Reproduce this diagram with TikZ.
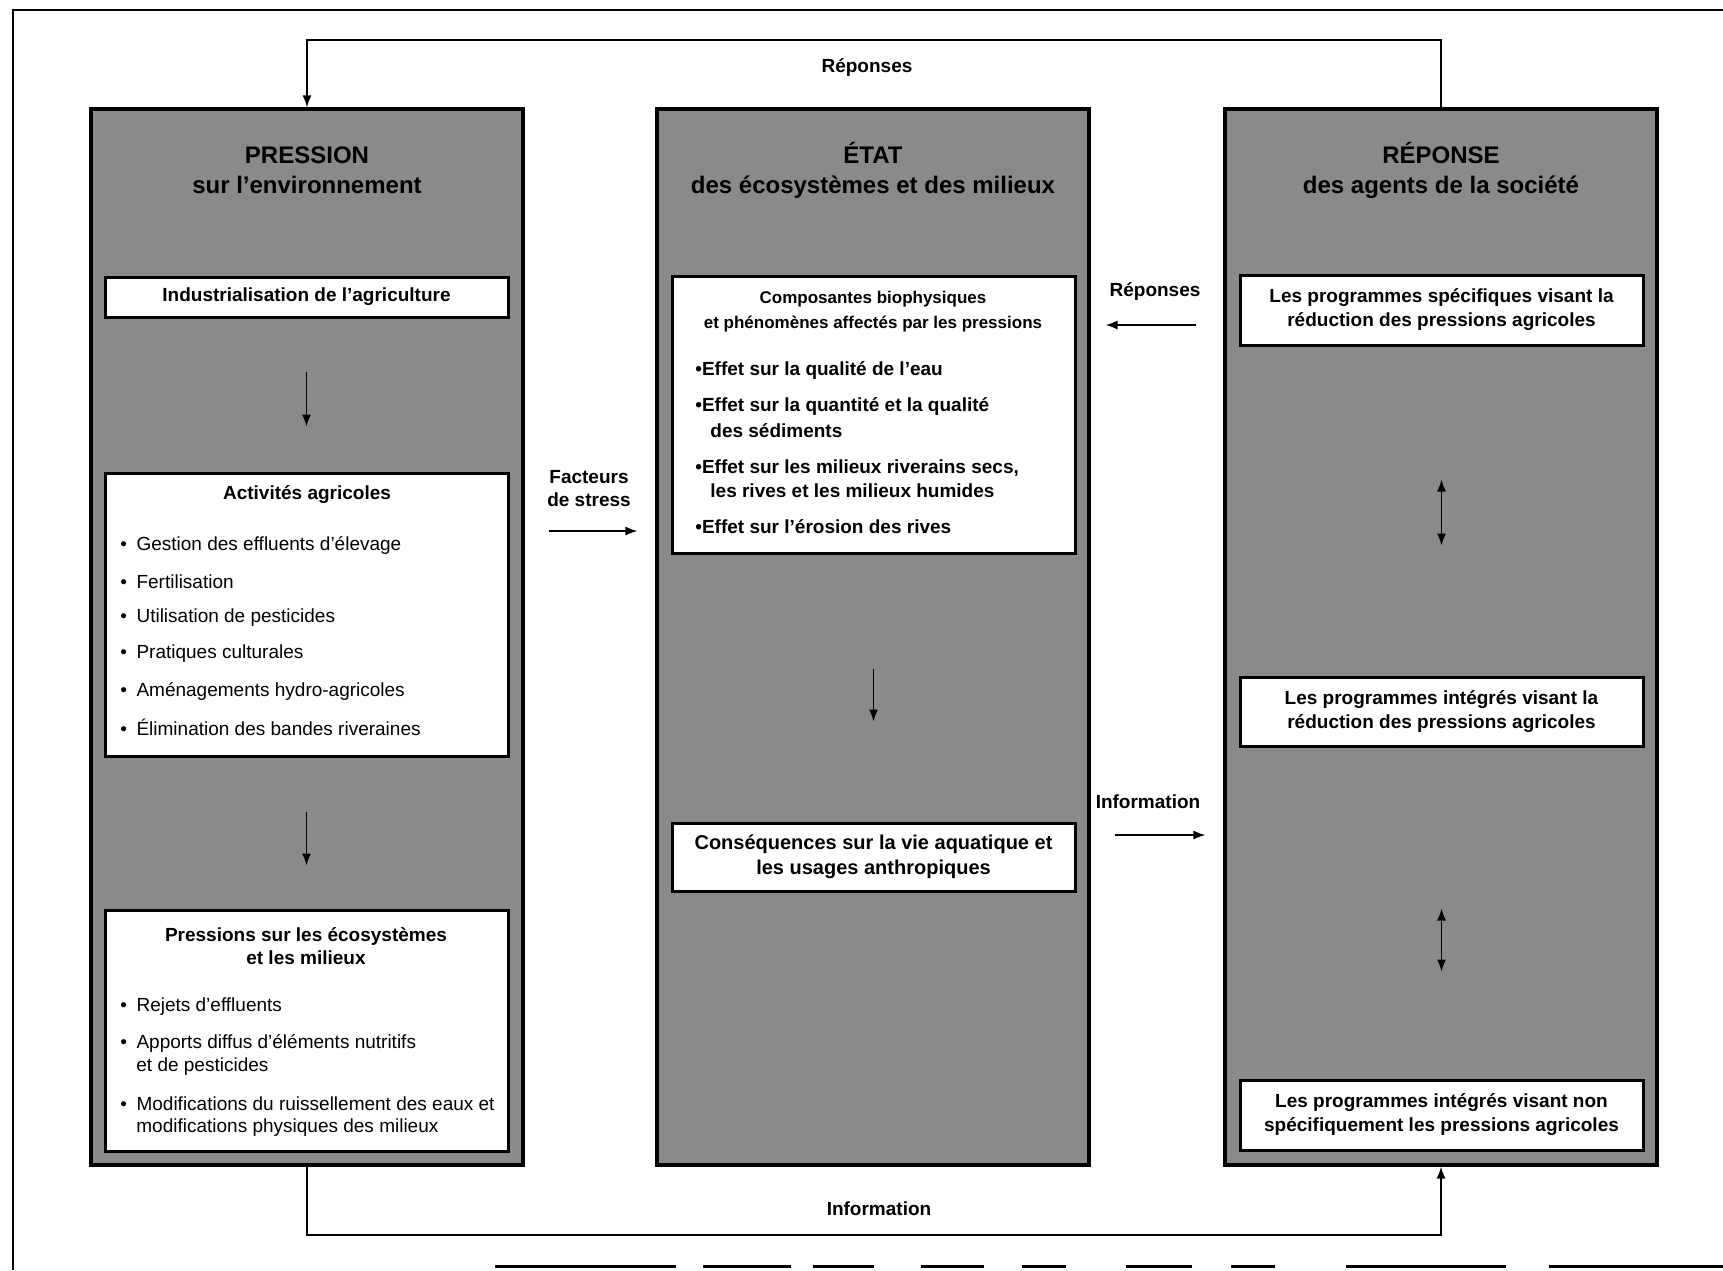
\documentclass[tikz,border=0pt]{standalone}
\usepackage{fontspec}
\setmainfont{Liberation Sans}
\usetikzlibrary{arrows.meta}

\begin{document}
\begin{tikzpicture}[x=0.5pt,y=-0.5pt,>={Latex[length=6pt,width=4.5pt]},
  colbox/.style={rectangle, draw, line width=1.6pt, fill=black!46, minimum width=216pt, minimum height=528pt, inner sep=0pt},
  panel/.style={rectangle, draw, line width=1.5pt, fill=white, minimum width=201.5pt, inner sep=0pt},
  colhead/.style={font=\fontsize{12}{15}\selectfont\bfseries, align=center},
  ttl/.style={font=\fontsize{9.5}{11.5}\selectfont\bfseries, align=center},
  listitem/.style={font=\fontsize{9.5}{11.5}\selectfont, anchor=west, inner sep=0pt},
  bolditem/.style={font=\fontsize{9.5}{11.5}\selectfont\bfseries, anchor=west, inner sep=0pt},
  lbl/.style={font=\fontsize{9.5}{11.5}\selectfont\bfseries, align=center}]
\useasboundingbox (0,0) rectangle (1723,1270);
% frame of the page
\draw[line width=1.2pt] (1723,10) -- (13,10) -- (13,1270);
\draw[line width=1.5pt] (495,1266) -- (676,1266) (703,1266) -- (791,1266) (813,1266) -- (874,1266)
  (921,1266) -- (984,1266) (1022,1266) -- (1066,1266) (1126,1266) -- (1192,1266)
  (1231,1266) -- (1275,1266) (1346,1266) -- (1506,1266) (1549,1266) -- (1723,1266);

\node[colbox] (colL) at (307,637) {};
\node[colbox] (colM) at (873,637) {};
\node[colbox] (colR) at (1441,637) {};
\node[colhead] (hL) at (307,170) {PRESSION\\sur l’environnement};
\node[colhead] (hM) at (873,170) {ÉTAT\\des écosystèmes et des milieux};
\node[colhead] (hR) at (1441,170) {RÉPONSE\\des agents de la société};

% pression
\node[panel, ttl, minimum height=20pt] (indus) at (306.5,297) {Industrialisation de l’agriculture};
\node[panel, minimum height=141.5pt] (activ) at (306.5,614.5) {};
\node[ttl] (activT) at (307,495) {Activités agricoles};
\node[listitem] (act1) at (120,545) {•\enspace Gestion des effluents d’élevage};
\node[listitem] (act2) at (120,582) {•\enspace Fertilisation};
\node[listitem] (act3) at (120,618) {•\enspace Utilisation de pesticides};
\node[listitem] (act4) at (120,654) {•\enspace Pratiques culturales};
\node[listitem] (act5) at (120,691) {•\enspace Aménagements hydro-agricoles};
\node[listitem] (act6) at (120,727) {•\enspace Élimination des bandes riveraines};
\node[panel, minimum height=120.5pt] (press) at (306.5,1030.5) {};
\node[ttl] (pressT) at (306,946) {Pressions sur les écosystèmes\\et les milieux};
\node[listitem] (pr1) at (120,1007) {•\enspace Rejets d’effluents};
\node[listitem] (pr2) at (120,1043) {•\enspace Apports diffus d’éléments nutritifs};
\node[listitem] (pr2b) at (136,1067) {et de pesticides};
\node[listitem] (pr3) at (120,1104) {•\enspace Modifications du ruissellement des eaux et};
\node[listitem] (pr3b) at (136,1128) {modifications physiques des milieux};
\draw[line width=0.8pt, ->, shorten <=26.5pt, shorten >=22.5pt] (indus) -- (activ);
\draw[line width=0.8pt, ->, shorten <=27pt, shorten >=21.5pt] (activ) -- (press);

% etat
\node[panel, minimum height=138.5pt] (compo) at (873.5,414.5) {};
\node[font=\fontsize{8.5}{12.5}\selectfont\bfseries, align=center] (compoT) at (873,312) {Composantes biophysiques\\et phénomènes affectés par les pressions};
\node[bolditem] (ef1) at (695,370) {•Effet sur la qualité de l’eau};
\node[bolditem] (ef2) at (695,406) {•Effet sur la quantité et la qualité};
\node[bolditem] (ef2b) at (710,431) {des sédiments};
\node[bolditem] (ef3) at (695,468) {•Effet sur les milieux riverains secs,};
\node[bolditem] (ef3b) at (710,491) {les rives et les milieux humides};
\node[bolditem] (ef4) at (695,527) {•Effet sur l’érosion des rives};
\node[panel, minimum height=34pt, font=\fontsize{10}{12.5}\selectfont\bfseries, align=center] (conseq) at (873.5,857) {Conséquences sur la vie aquatique et\\les usages anthropiques};
\draw[line width=0.8pt, ->, shorten <=57pt, shorten >=50pt] (compo) -- (conseq);

% reponse
\node[panel, minimum height=35pt, font=\fontsize{9.5}{12}\selectfont\bfseries, align=center] (prog1) at (1441.5,310) {Les programmes spécifiques visant la\\réduction des pressions agricoles};
\node[panel, minimum height=34.5pt, font=\fontsize{9.5}{12}\selectfont\bfseries, align=center] (prog2) at (1441.5,711.5) {Les programmes intégrés visant la\\réduction des pressions agricoles};
\node[panel, minimum height=35pt, font=\fontsize{9.5}{12}\selectfont\bfseries, align=center] (prog3) at (1441.5,1115) {Les programmes intégrés visant non\\spécifiquement les pressions agricoles};
\draw[line width=0.8pt, <->, shorten <=66.5pt, shorten >=65pt] (prog1) -- (prog2);
\draw[line width=0.8pt, <->, shorten <=80.5pt, shorten >=53.5pt] (prog2) -- (prog3);

% liens entre colonnes
\node[lbl] (stress) at (589,489) {Facteurs\\de stress};
\coordinate (fs) at (0,531);
\draw[line width=0.8pt, ->, shorten <=12pt, shorten >=9pt] (colL.east|-fs) -- (colM.west|-fs);
\node[lbl] (repMid) at (1155,291) {Réponses};
\coordinate (rm) at (0,325);
\draw[line width=0.8pt, ->, shorten <=13.5pt, shorten >=7.5pt] (colR.west|-rm) -- (colM.east|-rm);
\node[lbl] (infoMid) at (1148,802) {Information};
\coordinate (im) at (0,835);
\draw[line width=0.8pt, ->, shorten <=12pt, shorten >=9pt] (colM.east|-im) -- (colR.west|-im);

\node[lbl] (repTop) at (867,67) {Réponses};
\coordinate (topturn) at (307,40);
\draw[line width=0.8pt, ->] (colR.north) |- (topturn) -- (colL.north);
\node[lbl] (infoBot) at (879,1209) {Information};
\coordinate (botturn) at (307,1235);
\draw[line width=0.8pt, ->] (colL.south) -- (botturn) -| (colR.south);
\end{tikzpicture}
\end{document}
